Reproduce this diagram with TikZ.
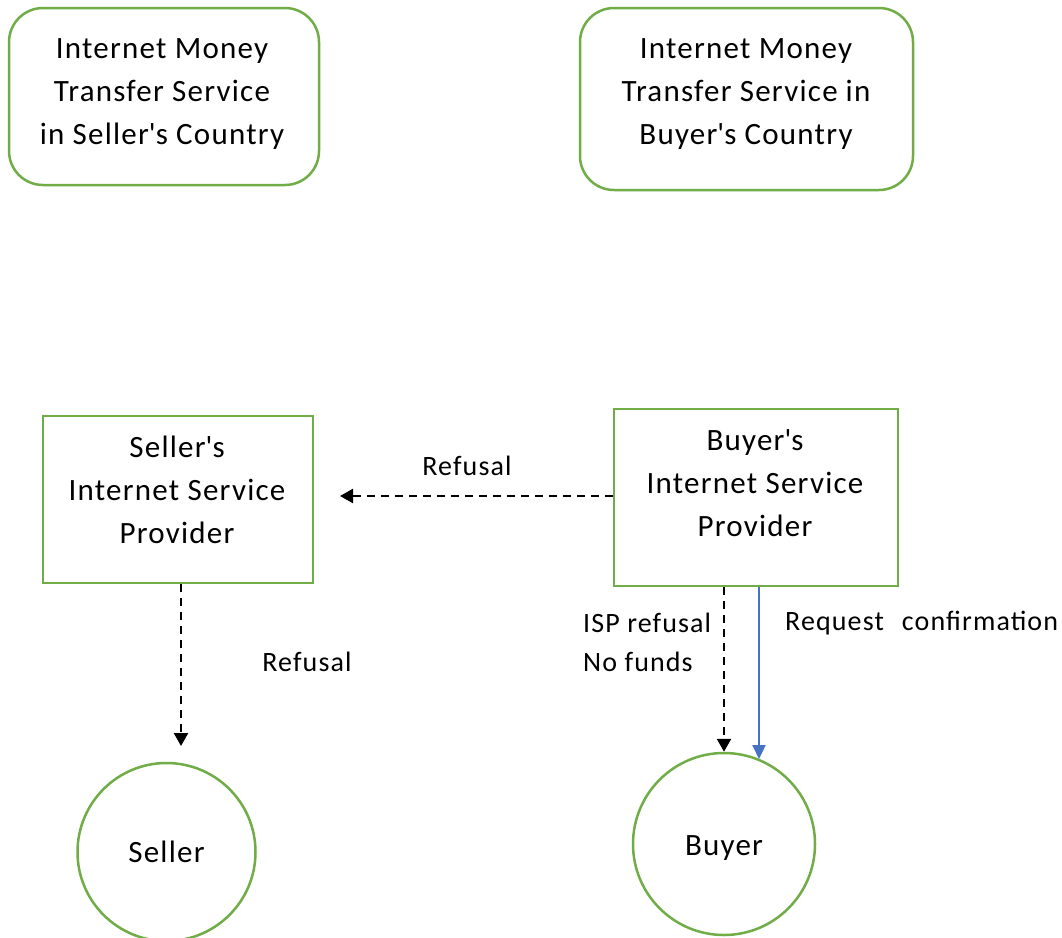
\documentclass[tikz,border=0pt]{standalone}
\usepackage{fontspec}
\setmainfont{Carlito}[LetterSpace=4]
\usetikzlibrary{arrows.meta}
\definecolor{boxgreen}{RGB}{112,173,71}
\definecolor{flowblue}{RGB}{68,114,196}
\newcommand{\apos}{\textquotesingle}
\tikzset{
  service/.style={draw=boxgreen, line width=2.5pt, rounded corners=34pt},
  ispbox/.style={draw=boxgreen, line width=2.5pt},
  party/.style={circle, draw=boxgreen, line width=2.5pt, inner sep=0pt},
  boxtext/.style={align=center, inner sep=0pt, font=\fontsize{31}{43}\selectfont},
  flowlabel/.style={inner sep=0pt, font=\fontsize{28}{39}\selectfont},
  refusal/.style={line width=2.4pt, dash pattern=on 8pt off 6pt,
    -{Triangle[length=13pt,width=14pt]}},
  request/.style={draw=flowblue, line width=2.2pt,
    -{Triangle[length=14pt,width=13pt]}}
}
\begin{document}
\begin{tikzpicture}[x=1pt,y=-1pt]
\useasboundingbox[fill=white] (0,0) rectangle (1062,937);

% money transfer services
\node[service, minimum width=310pt, minimum height=177pt] (sellersvc) at (164,96.5) {};
\node[boxtext] (sellersvctext) at (162,94) {Internet Money\\Transfer Service\\in Seller\apos s Country};
\node[service, minimum width=333pt, minimum height=182pt] (buyersvc) at (746.5,99) {};
\node[boxtext] (buyersvctext) at (746,94) {Internet Money\\Transfer Service\hspace{8pt}in\\Buyer\apos s Country};

% internet service providers
\node[ispbox, minimum width=270pt, minimum height=167pt] (sellerisp) at (178,499.5) {};
\node[boxtext] (sellerisptext) at (177,490) {Seller\apos s\\Internet Service\\Provider};
\node[ispbox, minimum width=284pt, minimum height=177pt] (buyerisp) at (756,497.5) {};
\node[boxtext] (buyerisptext) at (755,483) {Buyer\apos s\\Internet Service\\Provider};

% parties
\node[party, minimum size=178pt, font=\fontsize{31}{43}\selectfont] (seller) at (166.5,852) {Seller};
\node[party, minimum size=182pt] (buyer) at (724,844) {};
\node[font=\fontsize{31}{43}\selectfont, inner sep=0pt] (buyertext) at (724,848) {Buyer};

% free arrow ends
\coordinate (refusalend) at (340,496);
\coordinate (sellerarrowend) at (181,746);
\coordinate (requestend) at (759,759);

% connectors
\draw[refusal] (buyerisp.west |- refusalend) -- (refusalend);
\draw[refusal] (sellerisp.south -| sellerarrowend) -- (sellerarrowend);
\draw[refusal] (buyerisp.south -| buyer.north) -- (buyer.north);
\draw[request] (buyerisp.south -| requestend) -- (requestend);

% labels
\node[flowlabel] (toplabel) at (467,466) {Refusal};
\node[flowlabel] (leftlabel) at (307,662) {Refusal};
\node[flowlabel, anchor=west] (isplabel) at (583,623) {ISP refusal};
\node[flowlabel, anchor=west] (fundslabel) at (583,662) {No funds};
\node[flowlabel, anchor=west] (requestlabel) at (785,623) {Request\hspace{18pt}confirmation};
\end{tikzpicture}
\end{document}
